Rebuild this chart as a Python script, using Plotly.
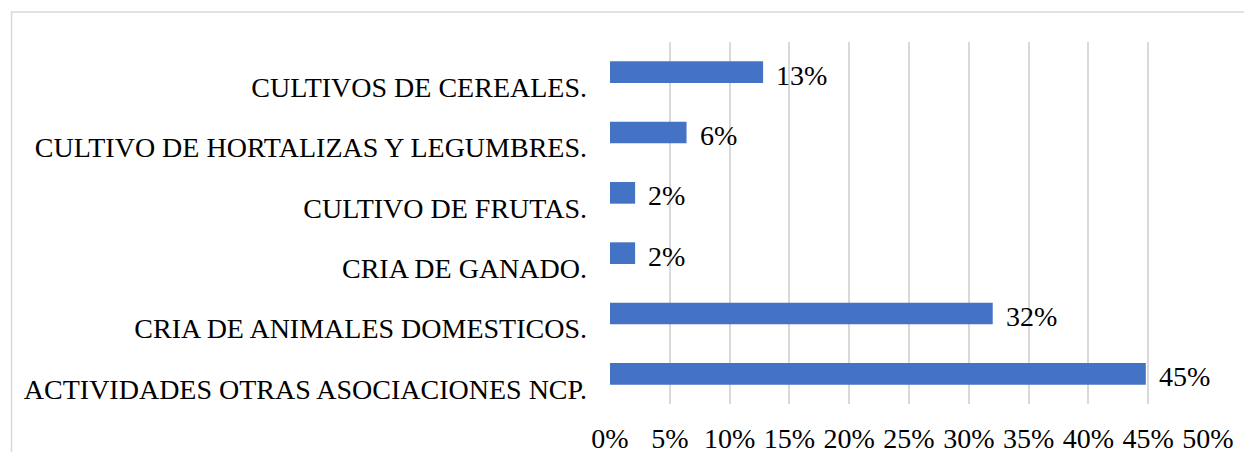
import plotly.graph_objects as go

categories = [
    "CULTIVOS DE CEREALES.",
    "CULTIVO DE HORTALIZAS Y LEGUMBRES.",
    "CULTIVO DE FRUTAS.",
    "CRIA DE GANADO.",
    "CRIA DE ANIMALES DOMESTICOS.",
    "ACTIVIDADES OTRAS ASOCIACIONES NCP.",
]
values = [12.8, 6.4, 2.1, 2.1, 32.0, 44.8]
labels = ["13%", "6%", "2%", "2%", "32%", "45%"]
tick_vals = [0, 5, 10, 15, 20, 25, 30, 35, 40, 45, 50]
tick_text = [f"{v}%" for v in tick_vals]

FONT = "Liberation Serif, Times New Roman, serif"

fig = go.Figure(
    go.Bar(
        x=values,
        y=categories,
        orientation="h",
        marker=dict(color="#4472C4", line=dict(width=0)),
        width=0.36,
        hoverinfo="skip",
    )
)

for v, c, t in zip(values, categories, labels):
    fig.add_annotation(
        x=v, y=c, text=t, showarrow=False, xanchor="left", yanchor="middle",
        xshift=11, yshift=-3, font=dict(family=FONT, size=28, color="#000000"),
    )

fig.add_shape(
    type="rect", xref="paper", yref="paper",
    x0=-1.0008, x1=1.1, y0=-0.25, y1=1.0829,
    line=dict(color="#d9d9d9", width=1.5), fillcolor="rgba(0,0,0,0)", layer="below",
)

fig.update_layout(
    width=1252, height=452,
    margin=dict(l=602, r=52, t=34, b=56),
    paper_bgcolor="white", plot_bgcolor="white",
    showlegend=False,
    font=dict(family=FONT, size=28, color="#000000"),
    xaxis=dict(
        range=[0, 50], tickmode="array", tickvals=tick_vals, ticktext=tick_text,
        showgrid=True, gridcolor="#d9d9d9", gridwidth=2,
        zeroline=False, showline=False, ticks="", ticklabelstandoff=15,
        fixedrange=True, automargin=False,
    ),
    yaxis=dict(
        categoryorder="array", categoryarray=categories, autorange="reversed",
        showgrid=False, zeroline=False, showline=False, ticks="",
        ticklabelstandoff=22, ticklabelshift=-15, fixedrange=True, automargin=False,
    ),
)

fig.write_html("out.html", config={"displayModeBar": False})
